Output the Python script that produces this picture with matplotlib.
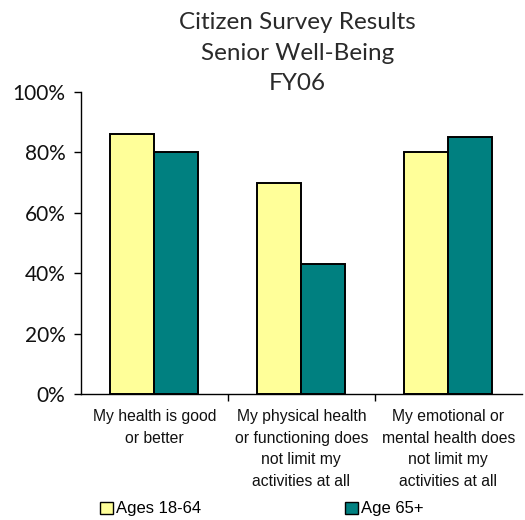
import matplotlib
matplotlib.use("Agg")
import matplotlib.pyplot as plt
import numpy as np
from matplotlib.patches import Patch
from matplotlib.ticker import PercentFormatter

categories = ["My health is good\nor better",
              "My physical health\nor functioning does\nnot limit my\nactivities at all",
              "My emotional or\nmental health does\nnot limit my\nactivities at all"]
ages_18_64 = [86, 70, 80]
age_65_plus = [80, 43, 85]
series_names = ["Ages 18-64", "Age 65+"]
colors = ["#FFFF99", "#008080"]

fig = plt.figure(figsize=(5.25, 5.2), dpi=100)
ax = fig.add_axes([0.154, 0.2423, 0.84, 0.5807])

x = np.arange(len(categories))
w = 0.3
ax.bar(x - w/2, ages_18_64, w, color=colors[0], edgecolor="black", linewidth=1.4)
ax.bar(x + w/2, age_65_plus, w, color=colors[1], edgecolor="black", linewidth=1.4)

ax.set_xlim(-0.5, len(categories) - 0.5)
ax.set_ylim(0, 100)
ax.set_yticks(np.arange(0, 101, 20))
ax.yaxis.set_major_formatter(PercentFormatter(decimals=0))
ax.tick_params(axis="y", labelsize=15, length=5, width=1, pad=6, direction="out",
               labelcolor="#111111")
for lab in ax.get_yticklabels():
    lab.set_fontfamily("Lato")

ax.set_xticks([0.5, 1.5])
ax.set_xticklabels([])
ax.tick_params(axis="x", length=5, width=1, direction="out")
for s in ["top", "right"]:
    ax.spines[s].set_visible(False)
ax.spines["left"].set_linewidth(1)
ax.spines["bottom"].set_linewidth(1)

for i, c in enumerate(categories):
    ax.text(x[i], -5.0, c, ha="center", va="top", fontsize=11.3,
            family="Liberation Sans", linespacing=1.54, color="#111111",
            transform=ax.transData)

fig.text(0.566, 0.976, "Citizen Survey Results\nSenior Well-Being\nFY06",
         ha="center", va="top", fontsize=17.5, family="Lato",
         color="#2a2a2a", linespacing=1.55)

h1 = [Patch(facecolor=colors[0], edgecolor="black", linewidth=1)]
h2 = [Patch(facecolor=colors[1], edgecolor="black", linewidth=1)]
common = dict(frameon=False, prop={"family": "Liberation Sans", "size": 12},
              handlelength=0.75, handleheight=0.75, handletextpad=0.2,
              borderpad=0, borderaxespad=0, loc="center left")
fig.legend(h1, [series_names[0]], bbox_to_anchor=(100/525, 1 - 509/520), **common)
fig.legend(h2, [series_names[1]], bbox_to_anchor=(345/525, 1 - 509/520), **common)

fig.savefig("out.png", dpi=100)
